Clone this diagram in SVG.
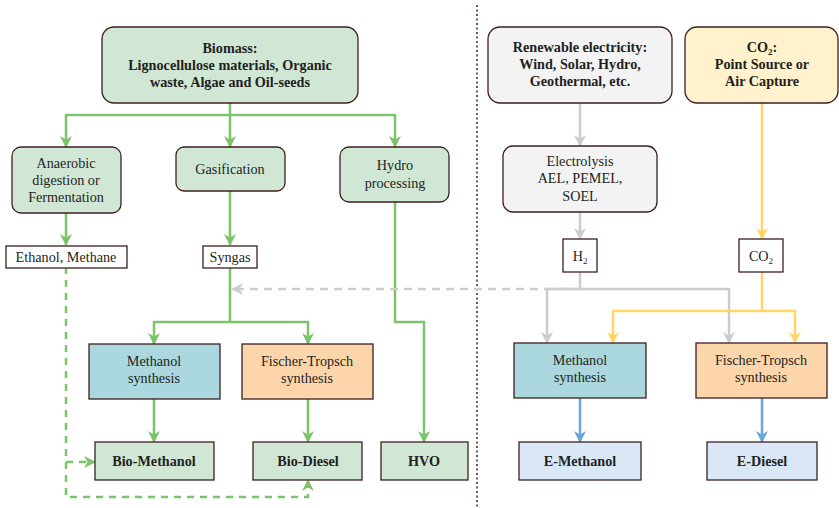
<svg xmlns="http://www.w3.org/2000/svg" width="839" height="508" viewBox="0 0 839 508">
<defs>
<style>
text{font-family:"Liberation Serif","DejaVu Serif",serif;font-size:14.2px;fill:#231f20;text-anchor:middle}
.b{font-weight:bold}
.box{stroke:#3d1f1f;stroke-width:1.3}
.g{fill:#d1e7d6}
.gr{fill:#f3f3f3}
.y{fill:#fff2cc}
.w{fill:#ffffff}
.c{fill:#aad8de}
.o{fill:#fcd5ab}
.bl{fill:#dae8f6}
.ln{fill:none;stroke-width:2.5}
.lg{stroke:#7dc36b}
.lgr{stroke:#cccccc}
.ly{stroke:#ffd666}
.lb{stroke:#6aa6db}
</style>
<marker id="ag" viewBox="0 0 12 12" markerWidth="12" markerHeight="12" refX="11" refY="6" orient="auto" markerUnits="userSpaceOnUse"><path d="M0,0 L12,6 L0,12 L3.5,6 z" fill="#7dc36b"/></marker>
<marker id="agr" viewBox="0 0 12 12" markerWidth="12" markerHeight="12" refX="11" refY="6" orient="auto" markerUnits="userSpaceOnUse"><path d="M0,0 L12,6 L0,12 L3.5,6 z" fill="#cccccc"/></marker>
<marker id="ay" viewBox="0 0 12 12" markerWidth="12" markerHeight="12" refX="11" refY="6" orient="auto" markerUnits="userSpaceOnUse"><path d="M0,0 L12,6 L0,12 L3.5,6 z" fill="#ffd666"/></marker>
<marker id="ab" viewBox="0 0 12 12" markerWidth="12" markerHeight="12" refX="11" refY="6" orient="auto" markerUnits="userSpaceOnUse"><path d="M0,0 L12,6 L0,12 L3.5,6 z" fill="#6aa6db"/></marker>
</defs>
<rect width="839" height="508" fill="#ffffff"/>

<line x1="477" y1="5" x2="477" y2="508" stroke="#3a0e0e" stroke-width="1.4" stroke-dasharray="2,2.5"/>

<g id="connectors">
<path class="ln lg" d="M230,103 V115"/>
<path class="ln lg" d="M66,115 H395"/>
<path class="ln lg" d="M66,114 V147" marker-end="url(#ag)"/>
<path class="ln lg" d="M230,114 V147" marker-end="url(#ag)"/>
<path class="ln lg" d="M395,114 V147" marker-end="url(#ag)"/>
<path class="ln lg" d="M66,213 V245" marker-end="url(#ag)"/>
<path class="ln lg" d="M230,191 V245" marker-end="url(#ag)"/>
<path class="ln lg" d="M230,267 V322"/>
<path class="ln lg" d="M154,322 H308"/>
<path class="ln lg" d="M154,321 V344" marker-end="url(#ag)"/>
<path class="ln lg" d="M308,321 V344" marker-end="url(#ag)"/>
<path class="ln lg" d="M154,399 V442" marker-end="url(#ag)"/>
<path class="ln lg" d="M308,399 V442" marker-end="url(#ag)"/>
<path class="ln lg" d="M395,202 V322 H424 V442" marker-end="url(#ag)"/>
<path class="ln lg" stroke-dasharray="7,6" d="M66,267 V497 H308 V480" marker-end="url(#ag)"/>
<path class="ln lg" stroke-dasharray="7,6" d="M66,462 H95" marker-end="url(#ag)"/>
<path class="ln lgr" d="M580,103 V146" marker-end="url(#agr)"/>
<path class="ln lgr" d="M580,212 V239" marker-end="url(#agr)"/>
<path class="ln lgr" d="M580,272 V289"/>
<path class="ln lgr" stroke-dasharray="8,6" d="M580,289 H232" marker-end="url(#agr)"/>
<path class="ln lgr" d="M547,289 H729"/>
<path class="ln lgr" d="M547,288 V343" marker-end="url(#agr)"/>
<path class="ln lgr" d="M729,288 V343" marker-end="url(#agr)"/>
<path class="ln ly" d="M762,103 V239" marker-end="url(#ay)"/>
<path class="ln ly" d="M762,272 V311"/>
<path class="ln ly" d="M613,311 H795"/>
<path class="ln ly" d="M613,310 V343" marker-end="url(#ay)"/>
<path class="ln ly" d="M795,310 V343" marker-end="url(#ay)"/>
<path class="ln lb" d="M580,398 V442" marker-end="url(#ab)"/>
<path class="ln lb" d="M762,398 V442" marker-end="url(#ab)"/>
</g>

<g id="biomass">
<rect class="box g" x="102" y="27" width="256" height="76" rx="12"/>
<text class="b" x="230" y="53">Biomass:</text>
<text class="b" x="230" y="70">Lignocellulose materials, Organic</text>
<text class="b" x="230" y="87">waste, Algae and Oil-seeds</text>
</g>
<g id="anaerobic">
<rect class="box g" x="12" y="147" width="109" height="66" rx="9"/>
<text x="66" y="168">Anaerobic</text>
<text x="66" y="185">digestion or</text>
<text x="66" y="202">Fermentation</text>
</g>
<g id="gasification">
<rect class="box g" x="176" y="147" width="109" height="44" rx="8"/>
<text x="230" y="174">Gasification</text>
</g>
<g id="hydro">
<rect class="box g" x="340" y="147" width="109" height="55" rx="9"/>
<text x="395" y="170">Hydro</text>
<text x="395" y="188">processing</text>
</g>
<g id="ethanol">
<rect class="box w" x="6" y="246" width="121" height="22"/>
<text x="66" y="262">Ethanol, Methane</text>
</g>
<g id="syngas">
<rect class="box w" x="203" y="246" width="54" height="22"/>
<text x="230" y="262">Syngas</text>
</g>
<g id="bio-methanol-synthesis">
<rect class="box c" x="89" y="344" width="131" height="55"/>
<text x="154" y="366">Methanol</text>
<text x="154" y="383">synthesis</text>
</g>
<g id="bio-ft-synthesis">
<rect class="box o" x="242" y="344" width="131" height="55"/>
<text x="307" y="366">Fischer-Tropsch</text>
<text x="307" y="383">synthesis</text>
</g>
<g id="bio-methanol">
<rect class="box g" x="95" y="442" width="119" height="38"/>
<text class="b" x="154" y="466">Bio-Methanol</text>
</g>
<g id="bio-diesel">
<rect class="box g" x="253" y="442" width="109" height="38"/>
<text class="b" x="308" y="466">Bio-Diesel</text>
</g>
<g id="hvo">
<rect class="box g" x="381" y="442" width="87" height="38"/>
<text class="b" x="424" y="466">HVO</text>
</g>

<g id="renewable">
<rect class="box gr" x="488" y="27" width="184" height="76" rx="12"/>
<text class="b" x="580" y="52">Renewable electricity:</text>
<text class="b" x="580" y="69">Wind, Solar, Hydro,</text>
<text class="b" x="580" y="86">Geothermal, etc.</text>
</g>
<g id="co2-source">
<rect class="box y" x="685" y="27" width="153" height="76" rx="12"/>
<text class="b" x="762" y="52">CO<tspan font-size="9" dy="3">2</tspan><tspan dy="-3">:</tspan></text>
<text class="b" x="762" y="69">Point Source or</text>
<text class="b" x="762" y="86">Air Capture</text>
</g>
<g id="electrolysis">
<rect class="box gr" x="503" y="146" width="154" height="66" rx="10"/>
<text x="580" y="166">Electrolysis</text>
<text x="580" y="183">AEL, PEMEL,</text>
<text x="580" y="201">SOEL</text>
</g>
<g id="h2">
<rect class="box w" x="563" y="239" width="34" height="33"/>
<text x="580" y="261">H<tspan font-size="9" dy="3">2</tspan></text>
</g>
<g id="co2">
<rect class="box w" x="739" y="239" width="44" height="33"/>
<text x="761" y="261">CO<tspan font-size="9" dy="3">2</tspan></text>
</g>
<g id="e-methanol-synthesis">
<rect class="box c" x="514" y="343" width="132" height="55"/>
<text x="580" y="365">Methanol</text>
<text x="580" y="382">synthesis</text>
</g>
<g id="e-ft-synthesis">
<rect class="box o" x="696" y="343" width="131" height="55"/>
<text x="761" y="365">Fischer-Tropsch</text>
<text x="761" y="382">synthesis</text>
</g>
<g id="e-methanol">
<rect class="box bl" x="519" y="442" width="122" height="38"/>
<text class="b" x="580" y="466">E-Methanol</text>
</g>
<g id="e-diesel">
<rect class="box bl" x="707" y="442" width="110" height="38"/>
<text class="b" x="762" y="466">E-Diesel</text>
</g>
</svg>
